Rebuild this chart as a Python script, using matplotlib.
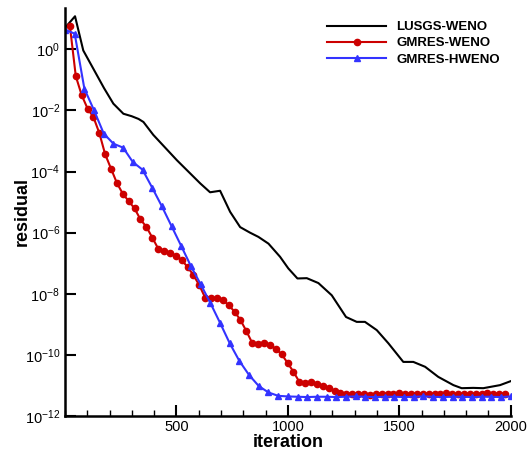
import numpy as np
import matplotlib
matplotlib.use('Agg')
import matplotlib.pyplot as plt
from matplotlib.ticker import FixedLocator, MultipleLocator, FuncFormatter

plt.rcParams['font.family'] = ['Liberation Sans', 'DejaVu Sans']
plt.rcParams['mathtext.fontset'] = 'custom'
plt.rcParams['mathtext.rm'] = 'Liberation Sans'
plt.rcParams['mathtext.default'] = 'regular'

# LUSGS-WENO (iteration, log10 residual)
lusgs_it = [0, 45, 82, 175, 217, 262, 299, 330, 352, 396, 502, 607, 651, 696,
            741, 786, 830, 868, 913, 965, 1002, 1043, 1085, 1137, 1197, 1261,
            1309, 1346, 1399, 1451, 1518, 1563, 1616, 1675, 1743, 1780, 1832,
            1877, 1952, 2000]
lusgs_log = [0.70, 1.08, -0.04, -1.27, -1.78, -2.11, -2.19, -2.28, -2.38, -2.80,
             -3.63, -4.39, -4.68, -4.63, -5.32, -5.82, -6.00, -6.14, -6.36, -6.79,
             -7.17, -7.50, -7.49, -7.65, -8.05, -8.76, -8.92, -8.92, -9.19, -9.62,
             -10.23, -10.23, -10.39, -10.72, -10.99, -11.09, -11.08, -11.09,
             -10.99, -10.86]

# GMRES-WENO
gw_it = np.linspace(22, 1975, 75)
gw_log = [0.76, -0.88, -1.50, -1.94, -2.22, -2.74, -3.44, -3.91, -4.38, -4.73,
          -4.97, -5.21, -5.57, -5.81, -6.16, -6.52, -6.61, -6.66, -6.75, -6.90,
          -7.12, -7.39, -7.72, -8.13, -8.15, -8.13, -8.21, -8.37, -8.59, -8.86,
          -9.22, -9.61, -9.63, -9.62, -9.68, -9.80, -9.98, -10.26, -10.55, -10.88,
          -10.91, -10.90, -10.94, -11.02, -11.10, -11.18, -11.25,
          -11.28, -11.27, -11.29, -11.28, -11.30, -11.28, -11.27, -11.29, -11.28,
          -11.26, -11.28, -11.29, -11.27, -11.28, -11.29, -11.27, -11.28, -11.26,
          -11.28, -11.29, -11.27, -11.28, -11.27, -11.28, -11.26, -11.27, -11.28,
          -11.27]

# GMRES-HWENO
gh_it = np.linspace(0, 2000, 47)
gh_log = [0.64, 0.51, -1.29, -2.00, -2.76, -3.09, -3.22, -3.69, -3.94, -4.53,
          -5.14, -5.79, -6.44, -7.10, -7.69, -8.30, -8.95, -9.62, -10.20, -10.66,
          -11.02, -11.23, -11.34, -11.36,
          -11.37, -11.38, -11.37, -11.37, -11.38, -11.37, -11.36, -11.37, -11.38,
          -11.37, -11.37, -11.38, -11.37, -11.36, -11.37, -11.38, -11.37, -11.37,
          -11.38, -11.37, -11.37, -11.38, -11.36]

fig = plt.figure(figsize=(5.29, 4.58), dpi=100)
ax = fig.add_axes([65 / 529, 42 / 458, (510.7 - 65) / 529, (416 - 8) / 458])

ax.plot(lusgs_it, 10.0 ** np.array(lusgs_log), color='black', lw=1.5,
        label='LUSGS-WENO')
ax.plot(gw_it, 10.0 ** np.array(gw_log), color='#cc0000', lw=1.5, marker='o',
        ms=4.5, label='GMRES-WENO')
ax.plot(gh_it, 10.0 ** np.array(gh_log), color='#3333ff', lw=1.5, marker='^',
        ms=5, label='GMRES-HWENO')

ax.set_yscale('log')
ax.set_xlim(0, 2000)
ax.set_ylim(1e-12, 10 ** 1.35)

ax.xaxis.set_major_locator(FixedLocator([500, 1000, 1500, 2000]))
ax.xaxis.set_minor_locator(MultipleLocator(100))
ax.yaxis.set_major_locator(FixedLocator([10.0 ** k for k in range(-12, 1, 2)]))
ax.yaxis.set_minor_locator(FixedLocator([]))
ax.yaxis.set_major_formatter(FuncFormatter(
    lambda v, p: '$10^{%d}$' % int(round(np.log10(v)))))

ax.tick_params(which='major', direction='in', length=8, width=1.5, labelsize=10.5)
ax.tick_params(which='minor', direction='in', length=4, width=1)
ax.tick_params(axis='x', pad=3)

for s in ['top', 'right']:
    ax.spines[s].set_visible(False)
for s in ['left', 'bottom']:
    ax.spines[s].set_linewidth(1.8)

ax.set_xlabel('iteration', fontsize=13, fontweight='bold', labelpad=0)
ax.set_ylabel('residual', fontsize=13, fontweight='bold')
ax.yaxis.set_label_coords(-0.077, 0.5)

ax.legend(loc='upper left', bbox_to_anchor=(327 / 529, 1 - 21 / 458),
          bbox_transform=fig.transFigure, frameon=False, borderpad=0,
          borderaxespad=0, handlelength=4.5, handletextpad=0.75,
          labelspacing=0.3, prop={'weight': 'bold', 'size': 9.5},
          markerscale=1.0)

plt.savefig('out.png', dpi=100)
